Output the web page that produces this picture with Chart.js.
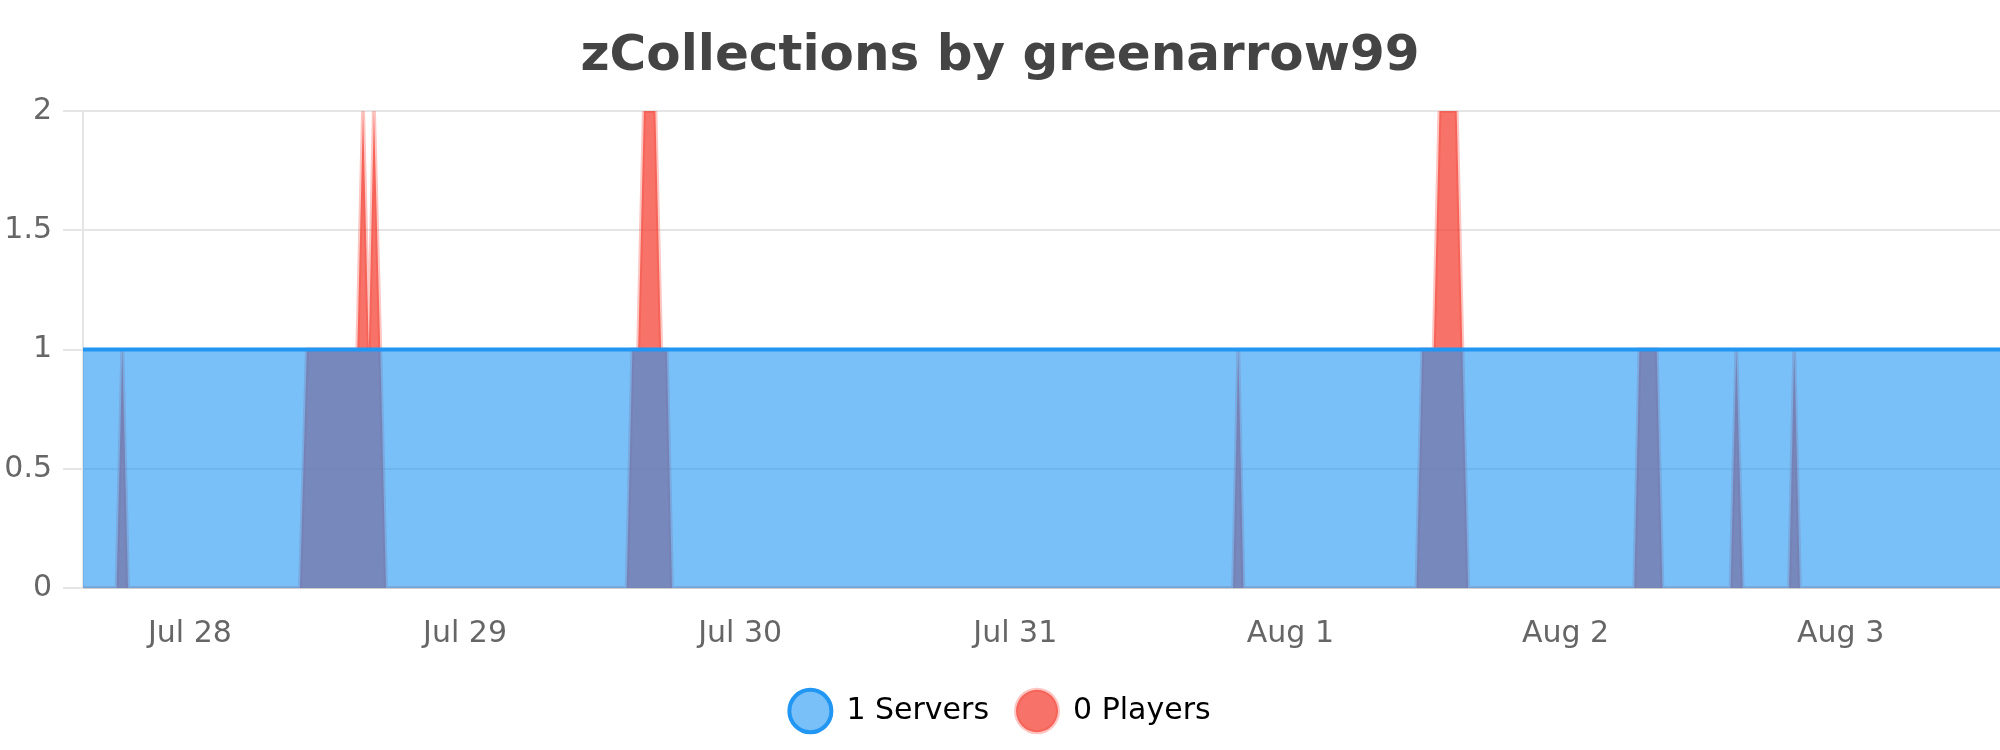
<!DOCTYPE html>
<html>
<head>
<meta charset="utf-8">
<script src="https://cdn.jsdelivr.net/npm/chart.js"></script>
<style>
    body { margin: 0; background: #fff; }
    #wrap { width: 2000px; height: 750px; }
</style>
</head>
<body>
<div id="wrap"><canvas id="serverChart" width="2000" height="750"></canvas></div>
<script>
// hours counted from Jul 27 00:00
const serverHours = [14.67, 181.9];
const serverCounts = [1, 1];

const playerHours = [14.67, 17.6, 18.1, 18.6, 33.6, 34.2, 38.6, 39.1, 39.6, 40.05, 40.6, 41.1,
    62.1, 62.6, 63.1, 63.6, 64.6, 65.1, 65.6, 66.05, 115.0, 115.45, 115.9,
    131.0, 131.5, 132.5, 133.0, 134.5, 135.0, 135.5, 150.0, 150.45, 151.95, 152.45,
    158.4, 158.9, 159.45, 163.5, 163.95, 164.45, 181.9];
const playerCounts = [0, 0, 1, 0, 0, 1, 1, 2, 1, 2, 1, 0,
    0, 1, 1, 2, 2, 1, 1, 0, 0, 1, 0,
    0, 1, 1, 2, 2, 1, 0, 0, 1, 1, 0,
    0, 1, 0, 0, 1, 0, 0];

const tickHours = [24, 48, 72, 96, 120, 144, 168];
const tickLabels = ['Jul 28', 'Jul 29', 'Jul 30', 'Jul 31', 'Aug 1', 'Aug 2', 'Aug 3'];

const yTicks = [0, 0.5, 1, 1.5, 2];

function toPoints(xs, ys) {
    return xs.map((x, i) => ({ x: x, y: ys[i] }));
}

Chart.defaults.font.family = '"DejaVu Sans", sans-serif';

new Chart(document.getElementById('serverChart'), {
    type: 'line',
    data: {
        datasets: [{
            label: '1 Servers',
            data: toPoints(serverHours, serverCounts),
            borderColor: '#2196F3',
            backgroundColor: 'rgba(33, 150, 243, 0.6)',
            borderWidth: 4,
            fill: 'origin',
            pointRadius: 0,
            tension: 0
        }, {
            label: '0 Players',
            data: toPoints(playerHours, playerCounts),
            borderColor: 'rgba(244, 67, 54, 0.3)',
            backgroundColor: 'rgba(244, 67, 54, 0.75)',
            borderWidth: 4,
            fill: 'origin',
            pointRadius: 0,
            tension: 0
        }]
    },
    options: {
        responsive: false,
        animation: false,
        devicePixelRatio: 1,
        layout: { padding: { bottom: 14 } },
        plugins: {
            title: {
                display: true,
                text: 'zCollections by greenarrow99',
                color: '#444',
                font: { size: 50, weight: 'bold' },
                padding: { top: 27, bottom: 24 }
            },
            legend: {
                position: 'bottom',
                labels: {
                    usePointStyle: true,
                    pointStyleWidth: 42,
                    padding: 27,
                    color: '#000',
                    font: { size: 30 }
                }
            },
            tooltip: { enabled: false }
        },
        scales: {
            x: {
                type: 'linear',
                min: serverHours[0],
                max: serverHours[serverHours.length - 1],
                grid: { display: false, drawTicks: false },
                afterBuildTicks: scale => {
                    scale.ticks = tickHours.map(v => ({ value: v }));
                },
                afterFit: scale => {
                    scale.height = 81;
                },
                ticks: {
                    autoSkip: false,
                    maxRotation: 0,
                    padding: 28,
                    color: '#666',
                    font: { size: 30 },
                    callback: value => tickLabels[tickHours.indexOf(value)]
                }
            },
            y: {
                min: yTicks[0],
                max: yTicks[yTicks.length - 1],
                grid: { color: 'rgba(0,0,0,0.1)', lineWidth: 2, tickLength: 20 },
                border: { color: 'rgba(0,0,0,0.1)', width: 2 },
                afterFit: scale => {
                    scale.width = 83;
                },
                ticks: {
                    stepSize: 0.5,
                    padding: 11,
                    color: '#666',
                    font: { size: 30 },
                    callback: value => String(value)
                }
            }
        }
    }
});
</script>
</body>
</html>
